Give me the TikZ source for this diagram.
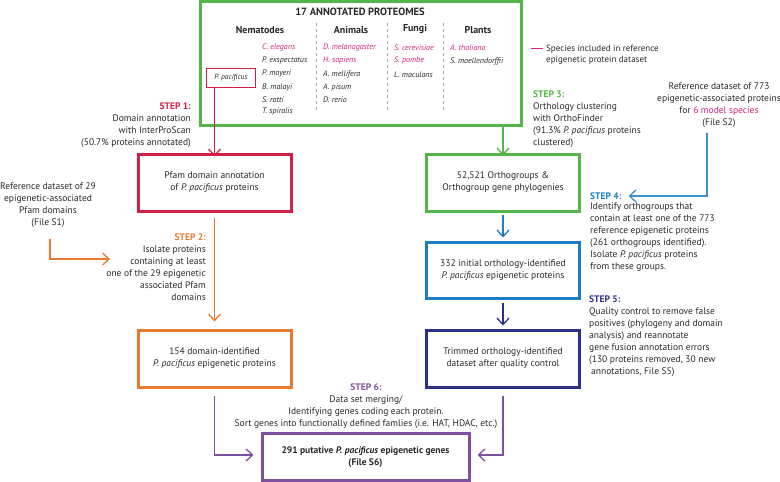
\documentclass[tikz,border=0pt]{standalone}
\usepackage{fontspec}
\setmainfont{PT Sans}
\usetikzlibrary{arrows.meta}
\definecolor{cgreen}{RGB}{84,182,72}
\definecolor{cred}{RGB}{211,30,70}
\definecolor{corange}{RGB}{232,122,48}
\definecolor{cblue}{RGB}{30,125,192}
\definecolor{clblue}{RGB}{60,145,205}
\definecolor{cnavy}{RGB}{44,48,136}
\definecolor{cpurple}{RGB}{125,80,160}
\definecolor{cmag}{RGB}{212,34,126}
\definecolor{ctext}{RGB}{40,40,40}
\begin{document}
\begin{tikzpicture}[x=1pt,y=-1pt,
  every node/.style={text=ctext},
  body/.style={font=\fontsize{9.5}{12}\selectfont, inner sep=0pt},
  stdbox/.style={draw, line width=3pt, minimum width=153pt, minimum height=57pt, align=center, inner sep=2pt, font=\fontsize{9.5}{12}\selectfont},
  sp/.style={anchor=west, inner sep=0pt, font=\fontsize{8}{9}\selectfont\itshape},
  spm/.style={sp, text=cmag},
  hdr/.style={inner sep=0pt, font=\fontsize{10}{12}\selectfont\bfseries},
  arr/.style={line width=1.3pt, -{Straight Barb[length=6.5pt,width=12pt]}},
  sep/.style={draw=gray!70, line width=0.6pt, dash pattern=on 3pt off 3pt}
]
\useasboundingbox (0,0) rectangle (780,482);

% top box
\node[draw=cgreen, line width=3pt, minimum width=321pt, minimum height=124pt] (top) at (360.5,63) {};
\node[hdr, font=\fontsize{10.5}{12}\selectfont\bfseries] (title) at (360,12) {17 ANNOTATED PROTEOMES};
\node[hdr] (hn) at (260,30) {Nematodes};
\node[hdr] (ha) at (351,30) {Animals};
\node[hdr] (hf) at (415,29.5) {Fungi};
\node[hdr] (hp) at (478,30) {Plants};
\draw[sep] (316,23) -- (316,113);
\draw[sep] (387,23) -- (387,113);
\draw[sep] (443,23) -- (443,113);

\node[spm] (n1) at (262,47.5) {C. elegans};
\node[sp] (n2) at (262,60.5) {P. exspectatus};
\node[sp] (n3) at (262,73.5) {P. mayeri};
\node[sp] (n4) at (262,87) {B. malayi};
\node[sp] (n5) at (262,99.5) {S. ratti};
\node[sp] (n6) at (262,111.5) {T. spiralis};

\node[spm] (a1) at (323,47.5) {D. melanogaster};
\node[spm] (a2) at (323,60.5) {H. sapiens};
\node[sp] (a3) at (323,74.5) {A. mellifera};
\node[sp] (a4) at (323,87.5) {A. pisum};
\node[sp] (a5) at (323,100) {D. rerio};

\node[spm] (f1) at (394,48) {S. cerevisiae};
\node[spm] (f2) at (394,60.5) {S. pombe};
\node[sp] (f3) at (394,75) {L. maculans};

\node[spm] (p1) at (450,48) {A. thaliana};
\node[sp] (p2) at (450,61) {S. moellendorffii};

\node[minimum width=48pt, minimum height=18pt, inner sep=0pt, font=\fontsize{7.5}{9}\selectfont\itshape] (ppac) at (231,78) {P. pacificus};
\draw[cred, line width=1pt] (ppac.south west) rectangle (ppac.north east);

% legend
\draw[cmag, line width=1pt] (531,48) -- (543,48);
\node[anchor=west, inner sep=0pt, align=left, font=\fontsize{9}{11.5}\selectfont] (legend) at (546,54.5) {Species included in reference\\epigenetic protein dataset};

% boxes
\node[stdbox, draw=cred] (pfam) at (214.5,182.5) {Pfam domain annotation\\of \textit{P. pacificus} proteins};
\node[stdbox, draw=corange] (dom) at (214.5,358.5) {154 domain-identified\\\textit{P. pacificus} epigenetic proteins};
\node[stdbox, draw=cgreen] (og) at (503,182.5) {52,521 Orthogroups \&\\Orthogroup gene phylogenies};
\node[stdbox, draw=cblue, minimum height=56pt] (init) at (503,270) {332 initial orthology-identified\\\textit{P. pacificus} epigenetic proteins};
\node[stdbox, draw=cnavy] (trim) at (503,358.5) {Trimmed orthology-identified\\dataset after quality control};
\node[stdbox, draw=cpurple, minimum width=207pt, minimum height=47pt, font=\fontsize{9.5}{12}\selectfont\bfseries] (final) at (365.5,457) {291 putative \textit{P. pacificus} epigenetic genes\\(File S6)};

% annotations
\node[body, anchor=east, align=right] (s1) at (191,125) {\textcolor{cred}{\textbf{STEP 1:}}\\Domain annotation\\with InterProScan\\(50.7\% proteins annotated)};
\node[body, align=center] (ref29) at (48,205) {Reference dataset of 29\\epigenetic-associated\\Pfam domains\\(File S1)};
\node[body, anchor=east, align=right] (s2) at (206,267.5) {\textcolor{corange}{\textbf{STEP 2:}}\\Isolate proteins\\containing at least\\one of the 29 epigenetic\\associated Pfam\\domains};
\node[body, anchor=west, align=left] (s3) at (533,119) {\textcolor{cgreen}{\textbf{STEP 3:}}\\Orthology clustering\\with OrthoFinder\\(91.3\% \textit{P. pacificus} proteins\\clustered)};
\node[body, align=center] (ref773) at (719,105) {Reference dataset of 773\\epigenetic-associated proteins\\for \textcolor{cmag}{6 model species}\\(File S2)};
\node[body, anchor=west, text=cblue, font=\fontsize{9.5}{12}\selectfont\bfseries] (s4t) at (590,196) {STEP 4:};
\node[body, anchor=north west, align=left] (s4) at (590,203) {Identify orthogroups that\\contain at least one of the 773\\reference epigenetic proteins\\(261 orthogroups identified).\\Isolate \textit{P. pacificus} proteins\\from these groups.};
\node[body, anchor=west, align=left] (s5) at (589,336.5) {\textcolor{cnavy}{\textbf{STEP 5:}}\\Quality control to remove false\\positives (phylogeny and domain\\analysis) and reannotate\\gene fusion annotation errors\\(130 proteins removed, 30 new\\\hspace{2pt}annotations, File S5)};
\node[body, align=center] (s6) at (366,406) {\textcolor{cpurple}{\textbf{STEP 6:}}\\Data set merging/\\Identifying genes coding each protein.\\Sort genes into functionally defined famlies (i.e. HAT, HDAC, etc.)};

% connectors
\draw[arr, cred] (pfam.north |- ppac.south) -- ([yshift=-4pt]pfam.north);
\draw[arr, cgreen] (top.south -| og.north) -- ([yshift=-3pt]og.north);
\coordinate (o1) at (50,239);
\coordinate (o2) at (110,259);
\draw[arr, corange] (o1) |- (o2);
\draw[arr, corange, shorten <=5pt, shorten >=7pt] (pfam.south) -- (dom.north);
\coordinate (b1) at (707,133);
\draw[arr, clblue, shorten >=7pt] (b1) |- (s4t.east);
\draw[arr, cblue, shorten <=2pt, shorten >=3pt] (og.south) -- (init.north);
\draw[arr, cnavy, shorten <=3pt, shorten >=3pt] (init.south) -- (trim.north);
\draw[arr, cpurple, shorten <=7pt, shorten >=7pt] (dom.south) |- ([yshift=2pt]final.west);
\draw[arr, cpurple, shorten <=7pt, shorten >=7pt] (trim.south) |- ([yshift=2pt]final.east);
\end{tikzpicture}
\end{document}
